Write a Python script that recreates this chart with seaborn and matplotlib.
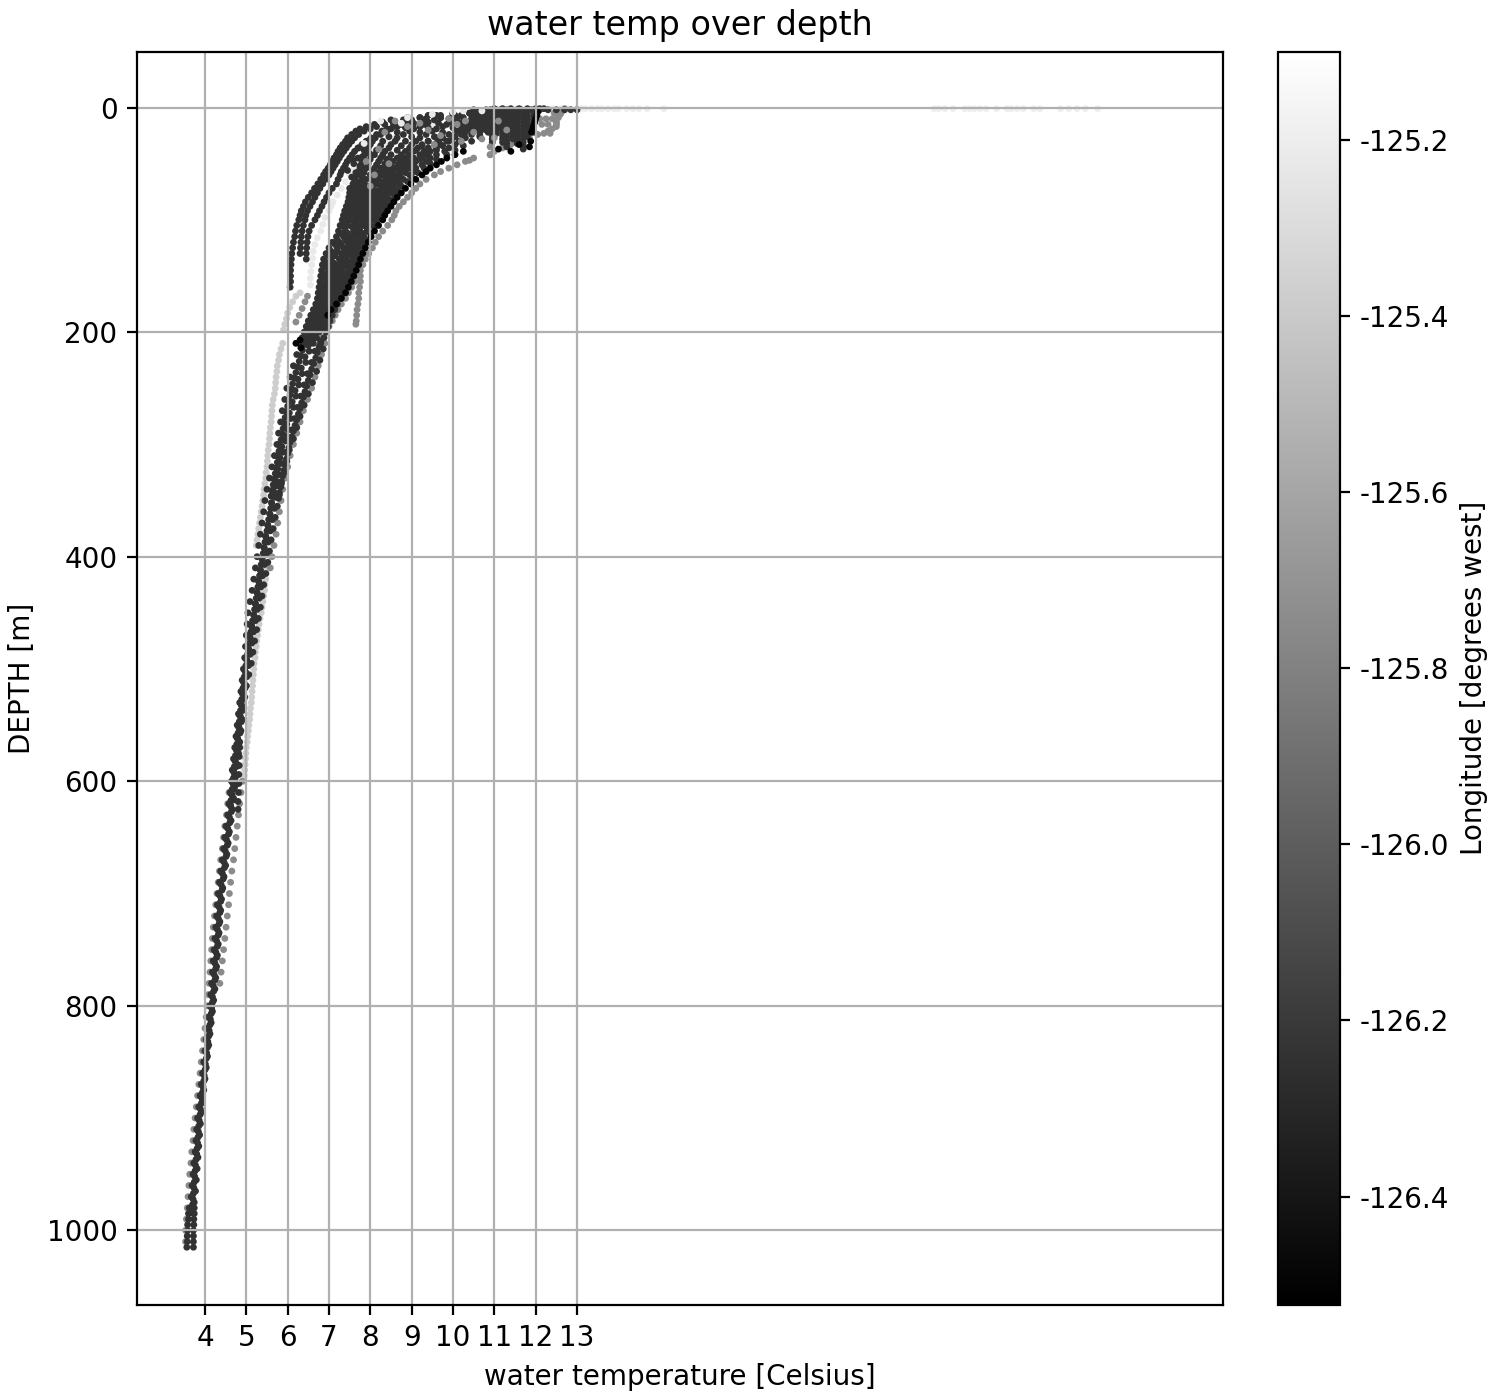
import pandas as pd
import seaborn as sns
import matplotlib.pyplot as plt
from matplotlib import cm, colors

# depth levels [m]
UP_DEPTH = [1, 3, 5, 7, 9, 11, 13, 15, 17, 19, 21, 24, 27, 30, 33, 36, 39, 42, 45, 48, 51, 54, 57, 60,
            64, 68, 72, 76, 80, 84, 88, 92, 96, 100, 105, 110, 115, 120, 125, 130, 135, 140, 145, 150,
            155, 160, 165, 170, 175, 180, 185, 190, 195, 200, 205, 210]
UP2_DEPTH = [2, 6, 10, 14, 18, 22, 26, 30, 34, 38, 42, 46, 50, 54, 58, 62, 66, 70, 74, 78, 82, 86, 90, 94, 98,
             102, 106, 112, 118, 122, 128, 132, 138, 142, 148, 152, 158, 162, 168, 172, 178, 182, 188, 192, 198]
DEEP_A = list(range(210, 1011, 10))
DEEP_B = list(range(215, 1016, 10))
DEEP_C = list(range(212, 1013, 10))
DEEP_D = list(range(217, 1018, 10))

# upper profiles, water temperature at UP_DEPTH
left_t = [12.0, 11.0, 10.0, 9.4, 8.9, 8.5, 8.3, 8.1, 7.9, 7.75, 7.65, 7.55, 7.45, 7.4, 7.33, 7.27, 7.22, 7.18,
          7.12, 7.08, 7.03, 6.98, 6.92, 6.87, 6.8, 6.73, 6.65, 6.58, 6.5, 6.43, 6.38, 6.33, 6.3, 6.27, 6.22,
          6.19, 6.17, 6.14, 6.12, 6.1, 6.09, 6.08, 6.07, 6.07, 6.07, 6.06]
left2_t = [12.1, 11.3, 10.4, 9.7, 9.2, 8.8, 8.55, 8.35, 8.15, 8.0, 7.85, 7.72, 7.62, 7.55, 7.48, 7.42, 7.36, 7.3,
           7.25, 7.2, 7.15, 7.1, 7.05, 7.0, 6.92, 6.85, 6.78, 6.72, 6.66, 6.6, 6.54, 6.48, 6.44, 6.42, 6.38,
           6.35, 6.33, 6.32, 6.31, 6.3]
second_t = [12.2, 11.6, 10.9, 10.2, 9.7, 9.3, 9.0, 8.75, 8.55, 8.4, 8.28, 8.15, 8.02, 7.9, 7.8, 7.7, 7.62, 7.56,
            7.5, 7.44, 7.4, 7.35, 7.3, 7.27, 7.22, 7.18, 7.08, 7.0, 6.94, 6.88, 6.83, 6.77, 6.72, 6.66, 6.58,
            6.52, 6.49, 6.47, 6.46, 6.45, 6.45]
mass0_t = [11.0, 10.6, 10.0, 9.6, 9.2, 9.0, 8.85, 8.75, 8.65, 8.5, 8.4, 8.25, 8.12, 8.05, 8.0, 7.95, 7.9, 7.86,
           7.83, 7.8, 7.78, 7.75, 7.72, 7.68, 7.62, 7.58, 7.55, 7.5, 7.48, 7.46, 7.42, 7.38, 7.35, 7.32, 7.27,
           7.23, 7.18, 7.08, 7.0, 6.93, 6.87, 6.84, 6.82, 6.8, 6.78, 6.76, 6.74, 6.72, 6.68, 6.62, 6.56, 6.5,
           6.45, 6.4, 6.35, 6.3]
mass1_t = [11.2, 10.9, 10.4, 10.05, 9.7, 9.55, 9.4, 9.3, 9.2, 9.05, 8.95, 8.8, 8.65, 8.6, 8.5, 8.45, 8.35, 8.3,
           8.25, 8.2, 8.15, 8.1, 8.05, 8.0, 7.9, 7.85, 7.8, 7.75, 7.7, 7.7, 7.65, 7.6, 7.55, 7.5, 7.45, 7.4,
           7.35, 7.25, 7.2, 7.1, 7.05, 7.0, 7.0, 6.95, 6.95, 6.9, 6.88, 6.88, 6.84, 6.78, 6.72, 6.64, 6.58, 6.52,
           6.46, 6.4]
mass2_t = [11.4, 11.15, 10.8, 10.5, 10.25, 10.1, 9.95, 9.85, 9.75, 9.6, 9.5, 9.35, 9.2, 9.1, 9.0, 8.95, 8.85,
           8.75, 8.65, 8.55, 8.5, 8.45, 8.35, 8.3, 8.2, 8.15, 8.05, 8.0, 7.95, 7.9, 7.85, 7.8, 7.75, 7.7, 7.65,
           7.6, 7.5, 7.45, 7.35, 7.3, 7.25, 7.2, 7.15, 7.1, 7.1, 7.05, 7.02, 7.0, 6.96, 6.9, 6.84, 6.78, 6.72, 6.66,
           6.6, 6.52]
mass3_t = [11.6, 11.45, 11.15, 11.0, 10.75, 10.6, 10.5, 10.4, 10.3, 10.2, 10.1, 9.9, 9.75, 9.65, 9.55, 9.4, 9.3,
           9.2, 9.05, 8.95, 8.85, 8.75, 8.7, 8.6, 8.5, 8.4, 8.35, 8.25, 8.2, 8.1, 8.05, 8.0, 7.95, 7.9, 7.85,
           7.75, 7.7, 7.6, 7.55, 7.45, 7.4, 7.35, 7.3, 7.3, 7.25, 7.2, 7.15, 7.1, 7.06, 7.0, 6.94, 6.88, 6.82, 6.76,
           6.7, 6.62]
mass4_t = [11.8, 11.7, 11.55, 11.45, 11.3, 11.15, 11.05, 10.95, 10.85, 10.75, 10.65, 10.45, 10.3, 10.15, 10.05,
           9.9, 9.8, 9.6, 9.45, 9.35, 9.25, 9.1, 9.05, 8.95, 8.8, 8.7, 8.6, 8.5, 8.4, 8.35, 8.3, 8.2, 8.15, 8.1,
           8.0, 7.95, 7.85, 7.75, 7.7, 7.65, 7.6, 7.55, 7.5, 7.45, 7.42, 7.38, 7.32, 7.26, 7.2, 7.14, 7.08, 7.02,
           6.98, 6.94, 6.88, 6.8]
# extra dark lines between the ones above, only below the top layer
fill1_t = [8.7, 8.5, 8.4, 8.32, 8.26, 8.2, 8.14, 8.08, 8.0, 7.95, 7.9, 7.85, 7.82, 7.78, 7.74, 7.7, 7.64, 7.6, 7.55,
           7.5, 7.45, 7.35, 7.28, 7.2, 7.15, 7.1, 7.08, 7.02, 7.0, 6.98, 6.94, 6.9, 6.85, 6.78, 6.7, 6.62, 6.55, 6.5]
fill2_t = [9.6, 9.4, 9.25, 9.15, 9.05, 8.95, 8.85, 8.78, 8.68, 8.58, 8.52, 8.46, 8.38, 8.34, 8.28, 8.2, 8.12, 8.08,
           8.0, 7.96, 7.9, 7.85, 7.8, 7.75, 7.7, 7.65, 7.55, 7.48, 7.42, 7.38, 7.32, 7.28, 7.22, 7.2, 7.18, 7.12,
           7.08, 7.0, 6.96, 6.88, 6.78, 6.68, 6.6, 6.52]
fill3_t = [10.4, 10.3, 10.2, 10.0, 9.85, 9.7, 9.6, 9.45, 9.35, 9.25, 9.1, 9.0, 8.9, 8.8, 8.72, 8.65, 8.55, 8.45,
           8.38, 8.3, 8.25, 8.18, 8.12, 8.08, 8.02, 7.98, 7.92, 7.82, 7.78, 7.72, 7.65, 7.58, 7.52, 7.48, 7.42,
           7.38, 7.35, 7.3, 7.24, 7.14, 7.06, 6.96, 6.86, 6.76, 6.68, 6.6, 6.52]

# staggered lines at UP2_DEPTH
band1_t = [10.9, 10.0, 9.35, 9.05, 8.85, 8.65, 8.45, 8.3, 8.25, 8.15, 8.1, 8.0, 7.95, 7.9, 7.85, 7.8, 7.75, 7.7, 7.65,
           7.6, 7.6, 7.55, 7.5, 7.45, 7.45, 7.4, 7.35, 7.3, 7.2, 7.15, 7.05, 7.0, 6.95, 6.9, 6.9, 6.85, 6.85, 6.8,
           6.8, 6.75, 6.7, 6.65, 6.58, 6.52, 6.48]
band2_t = [11.15, 10.45, 9.9, 9.65, 9.4, 9.2, 9.0, 8.85, 8.75, 8.65, 8.5, 8.4, 8.35, 8.25, 8.2, 8.1, 8.05, 7.95, 7.9,
           7.85, 7.8, 7.75, 7.7, 7.65, 7.65, 7.6, 7.55, 7.45, 7.4, 7.3, 7.2, 7.15, 7.1, 7.1, 7.05, 7.0, 7.0, 6.95,
           6.9, 6.85, 6.8, 6.75, 6.68, 6.65, 6.58]
band3_t = [11.4, 10.85, 10.45, 10.2, 10.0, 9.75, 9.55, 9.4, 9.25, 9.1, 8.95, 8.8, 8.7, 8.6, 8.5, 8.4, 8.3, 8.25, 8.15,
           8.1, 8.05, 8.0, 7.95, 7.85, 7.8, 7.8, 7.7, 7.65, 7.55, 7.5, 7.4, 7.35, 7.3, 7.25, 7.2, 7.2, 7.15, 7.1,
           7.05, 7.0, 6.9, 6.85, 6.8, 6.75, 6.7]
band4_t = [11.65, 11.25, 10.95, 10.75, 10.55, 10.3, 10.05, 9.9, 9.75, 9.6, 9.4, 9.2, 9.05, 8.95, 8.85, 8.7, 8.6, 8.5,
           8.4, 8.35, 8.25, 8.2, 8.15, 8.05, 8.0, 7.95, 7.9, 7.8, 7.7, 7.65, 7.6, 7.55, 7.5, 7.45, 7.4, 7.35, 7.3,
           7.25, 7.15, 7.1, 7.0, 6.95, 6.9, 6.85, 6.8]
band5_t = [11.9, 11.7, 11.5, 11.3, 11.1, 10.85, 10.65, 10.45, 10.25, 10.05, 9.85, 9.6, 9.45, 9.3, 9.15, 9.0, 8.9, 8.75,
           8.65, 8.6, 8.5, 8.4, 8.35, 8.3, 8.2, 8.15, 8.1, 8.0, 7.9, 7.85, 7.75, 7.7, 7.65, 7.6, 7.55, 7.5, 7.4, 7.35,
           7.3, 7.2, 7.1, 7.05, 7.0, 6.95, 6.92]

black_t = [10.25, 10.05, 9.85, 9.72, 9.6, 9.45, 9.35, 9.25, 9.1, 8.98, 8.85, 8.75, 8.65, 8.57, 8.5, 8.42, 8.35, 8.3,
           8.2, 8.1, 8.02, 7.95, 7.88, 7.82, 7.76, 7.72, 7.66, 7.6, 7.54, 7.47, 7.4, 7.3, 7.18, 7.05, 6.97]
black_d = UP_DEPTH[16:]
black_low_t = [6.3, 6.2, 6.32]
black_low_d = [207, 210, 214]
gray_t = [12.7, 12.65, 12.6, 12.55, 12.55, 12.5, 12.5, 12.5, 12.5, 12.4, 12.3, 12.05, 11.85, 11.6, 11.4, 11.2, 11.0,
          10.9, 10.5, 10.3, 10.1, 9.9, 9.7, 9.55, 9.35, 9.2, 9.1, 9.0, 8.9, 8.8, 8.7, 8.62, 8.58, 8.52, 8.42, 8.3,
          8.2, 8.12, 8.05, 7.96, 7.88, 7.82, 7.76, 7.7, 7.62, 7.55, 7.47, 7.4, 7.3, 7.22, 7.15, 7.08, 7.0, 6.92,
          6.85, 6.78]
stub_t = [7.76, 7.76, 7.74, 7.72, 7.72, 7.7, 7.68, 7.67, 7.66, 7.65]
stub_d = [150, 155, 160, 165, 170, 175, 180, 185, 190, 193]
pale_t = [9.5, 9.2, 8.9, 8.75, 8.6, 8.45, 8.3, 8.2, 8.05, 7.9, 7.75, 7.6, 7.5, 7.4, 7.3, 7.2, 7.1, 7.05, 7.0, 6.9,
          6.85, 6.8, 6.72, 6.66, 6.62, 6.6, 6.58, 6.56, 6.55, 6.55]
pale_d = [14, 17, 21, 24, 27, 30, 33, 36, 40, 44, 50, 55, 60, 66, 72, 78, 84, 88, 92, 98, 104, 110, 116, 122, 128,
          134, 140, 146, 152, 158]
light_up_t = [6.3, 6.2, 6.12, 6.05, 6.0, 5.97, 5.93, 5.9]
light_up_d = [165, 168, 173, 178, 183, 188, 193, 198]
gray_low_line_t = [6.48, 6.42, 6.35, 6.28, 6.2]
gray_low_line_d = [168, 173, 179, 185, 191]
# single dots in the fan
fan_dark_t = [7.9, 7.85, 7.7, 7.75, 7.65, 8.0, 7.55, 7.98, 7.6, 7.8, 7.72, 7.58, 7.68, 7.5, 7.45]
fan_dark_d = [33, 38, 45, 52, 58, 28, 62, 41, 50, 44, 36, 47, 66, 72, 56]
fan_gray_t = [9.9, 10.1, 10.3, 9.4, 9.2, 8.9, 8.6, 10.5, 10.7, 10.9, 11.0, 8.35, 8.2, 8.45, 7.9, 9.7, 9.55, 10.2, 11.3,
              11.1, 8.1, 8.0]
fan_gray_d = [10, 15, 12, 20, 14, 17, 12, 22, 28, 35, 27, 22, 37, 50, 48, 25, 33, 30, 20, 12, 60, 70]
fan_pale_t = [8.75, 9.5, 10.0, 10.25, 10.7, 7.85, 8.25, 8.9]
fan_pale_d = [14, 6, 4, 3, 3, 32, 12, 9]

# mixed layer columns near the surface
col_t = [10.5, 10.65, 10.8, 10.95, 11.05, 11.2, 11.3, 11.45, 11.55, 11.7, 11.8, 11.95]
col_len = [6, 8, 7, 10, 8, 10, 12, 9, 11, 12, 9, 7]
col_d1 = [2, 5, 8, 11, 14, 17, 20, 23, 26, 29, 32, 35]
col_d2 = [3, 7, 10, 13, 16, 19, 22, 25, 28, 31, 34, 37]
black_col_t = [12.05, 12.03, 12.0, 11.98, 11.95, 11.93, 11.9, 11.88, 11.85, 11.6, 11.4, 11.1]
black_col_d = [4, 7, 10, 13, 16, 19, 22, 30, 35, 33, 39, 37]
gray_low_t = [12.1, 12.25, 12.4, 12.15, 12.3, 12.5, 12.2, 12.35, 11.8, 10.9, 10.4, 12.6, 12.45]
gray_low_d = [10, 10, 10, 15, 15, 14, 23, 23, 26, 42, 47, 6, 5]
dark_line_t = [12.1, 12.3, 12.5, 12.7, 12.85, 13.0]
dark_line_d = [2, 2, 2, 2, 2, 2]

# surface water
surf_t = [12.4, 12.6, 12.8, 13.0, 13.1, 13.2, 13.35, 13.5, 13.6, 13.75, 13.9, 14.0, 14.2, 14.35, 14.5, 14.7, 15.1]
surf_far_t = [21.64, 21.75, 21.9, 22.1, 22.38, 22.5, 22.62, 22.75, 22.9, 23.15, 23.4, 23.5, 23.65, 23.8, 24.05, 24.2,
              24.7, 24.9, 25.1, 25.3, 25.6]

# deep profiles
deep1_t = [6.3, 6.22, 6.14, 6.06, 5.98, 5.93, 5.87, 5.83, 5.78, 5.74, 5.68, 5.62, 5.56, 5.5, 5.45, 5.42, 5.38, 5.34,
           5.3, 5.26, 5.22, 5.18, 5.14, 5.09, 5.04, 5.02, 5.0, 4.98, 4.96, 4.93, 4.9, 4.87, 4.84, 4.81, 4.78, 4.75,
           4.72, 4.69, 4.66, 4.64, 4.61, 4.58, 4.55, 4.51, 4.48, 4.45, 4.42, 4.38, 4.35, 4.32, 4.3, 4.28, 4.26, 4.24,
           4.22, 4.2, 4.18, 4.16, 4.14, 4.12, 4.09, 4.06, 4.03, 4.0, 3.97, 3.94, 3.91, 3.88, 3.85, 3.82, 3.8, 3.78,
           3.76, 3.73, 3.71, 3.69, 3.67, 3.64]
deep2_t = [6.86, 6.78, 6.7, 6.6, 6.5, 6.4, 6.3, 6.22, 6.14, 6.04, 5.98, 5.92, 5.85, 5.8, 5.75, 5.7, 5.65, 5.6,
           5.56, 5.52, 5.47, 5.42, 5.38, 5.34, 5.29, 5.25, 5.2, 5.16, 5.12, 5.06, 5.0, 4.96, 4.93, 4.9, 4.87, 4.84,
           4.81, 4.78, 4.75, 4.72, 4.69, 4.66, 4.63, 4.59, 4.56, 4.53, 4.5, 4.46, 4.43, 4.4, 4.38, 4.36, 4.34, 4.32,
           4.3, 4.28, 4.26, 4.24, 4.21, 4.18, 4.15, 4.12, 4.09, 4.06, 4.03, 4.0, 3.97, 3.94, 3.91, 3.89, 3.87, 3.85,
           3.83, 3.81, 3.79, 3.77, 3.74, 3.72]
deep3_t = [6.5, 6.42, 6.33, 6.25, 6.18, 6.11, 6.04, 5.98, 5.92, 5.86, 5.81, 5.76, 5.71, 5.66, 5.61, 5.57, 5.52, 5.47,
           5.43, 5.38, 5.34, 5.3, 5.26, 5.22, 5.18, 5.13, 5.09, 5.05, 5.01, 4.97, 4.94, 4.91, 4.88, 4.85, 4.82, 4.79,
           4.76, 4.73, 4.7, 4.68, 4.65, 4.62, 4.59, 4.55, 4.52, 4.49, 4.46, 4.42, 4.39, 4.36, 4.34, 4.32, 4.3, 4.28,
           4.26, 4.24, 4.22, 4.2, 4.18, 4.16, 4.13, 4.1, 4.07, 4.04, 4.01, 3.98, 3.95, 3.92, 3.89, 3.86, 3.84, 3.82,
           3.8, 3.77, 3.75, 3.73, 3.71]
deep4_t = [6.66, 6.58, 6.48, 6.4, 6.32, 6.24, 6.17, 6.1, 6.03, 5.96, 5.9, 5.85, 5.79, 5.73, 5.68, 5.63, 5.58, 5.53,
           5.49, 5.44, 5.39, 5.35, 5.31, 5.26, 5.22, 5.17, 5.13, 5.09, 5.05, 5.01, 4.97, 4.94, 4.91, 4.88, 4.85, 4.82,
           4.79, 4.76, 4.73, 4.7, 4.67, 4.64, 4.6, 4.57, 4.54, 4.51, 4.47, 4.44, 4.41, 4.38, 4.36, 4.34, 4.32, 4.3,
           4.28, 4.26, 4.24, 4.21, 4.18, 4.15, 4.12, 4.09, 4.06, 4.03, 4.0, 3.97, 3.94, 3.91, 3.88, 3.85, 3.83, 3.81,
           3.78, 3.76, 3.74, 3.72, 3.7]
# wide part of the band below 200 m
deep5_t = [6.45, 6.4, 6.36, 6.32, 6.28, 6.24, 6.2, 6.16, 6.12, 6.09, 6.06, 6.03, 6.0, 5.97, 5.94, 5.91, 5.89, 5.87,
           5.84, 5.81, 5.79, 5.77, 5.75, 5.72, 5.7, 5.67, 5.65, 5.62, 5.6]
deep5_d = list(range(206, 347, 5))
deep6_t = [6.8, 6.76, 6.72, 6.68, 6.63, 6.58, 6.54, 6.5, 6.46, 6.42, 6.38, 6.34, 6.3, 6.26, 6.22, 6.18, 6.14, 6.1,
           6.06, 6.03, 6.0, 5.97, 5.94, 5.91, 5.88, 5.85, 5.83, 5.8, 5.78]
deep6_d = list(range(208, 349, 5))
deep7_t = [6.6, 6.52, 6.44, 6.35, 6.27, 6.2, 6.14, 6.07, 6.01, 5.95, 5.88, 5.83, 5.78, 5.73, 5.68]
deep7_d = list(range(207, 348, 10))
deep8_t = [5.61, 5.59, 5.57, 5.54, 5.52, 5.5, 5.47, 5.45, 5.43, 5.41, 5.38, 5.36, 5.34, 5.32, 5.3, 5.28, 5.26, 5.24,
           5.22, 5.2, 5.18, 5.15, 5.13, 5.11, 5.09, 5.07, 5.05, 5.03, 5.01, 4.99, 4.97, 4.95, 4.94, 4.92, 4.91, 4.89,
           4.88, 4.86, 4.85, 4.83, 4.82, 4.8, 4.79, 4.77, 4.76, 4.74, 4.73, 4.71, 4.7, 4.69, 4.68, 4.66, 4.65, 4.63,
           4.62]
deep8_d = list(range(352, 623, 5))
tail_l_t = [3.62, 3.6, 3.6, 3.58, 3.58, 3.57, 3.57, 3.56]
tail_r_t = [3.74, 3.74, 3.73, 3.73, 3.72, 3.72, 3.72, 3.72]
tail_end_d = [980, 985, 990, 995, 1000, 1005, 1010, 1015]
tail_t = [4.84, 4.83, 4.83, 4.82, 4.82, 4.81, 4.8, 4.8]
tail_d = [570, 578, 586, 594, 602, 610, 618, 625]

# light gray flanks
light_left_t = [5.88, 5.84, 5.8, 5.78, 5.75, 5.74, 5.72, 5.71, 5.7, 5.68, 5.65, 5.63, 5.62, 5.61, 5.6, 5.58, 5.57, 5.56,
                5.55, 5.53, 5.52, 5.51, 5.5, 5.48, 5.47, 5.45, 5.43, 5.42, 5.4, 5.38, 5.36, 5.34, 5.32, 5.3, 5.28, 5.26,
                5.24]
light_left_d = list(range(210, 391, 5))
light_right_t = [5.5, 5.48, 5.47, 5.45, 5.44, 5.42, 5.4, 5.38, 5.36, 5.33, 5.31, 5.29, 5.27, 5.25, 5.24, 5.22, 5.21,
                 5.19, 5.18, 5.17, 5.16, 5.15, 5.14, 5.13, 5.12, 5.1, 5.09, 5.08, 5.06, 5.05, 5.03, 5.02, 5.0, 4.99,
                 4.98, 4.97, 4.96, 4.95, 4.94]
light_right_d = list(range(410, 601, 5))
gray_right_t = [6.9, 6.82, 6.74, 6.66, 6.58, 6.48, 6.38, 6.3, 6.22, 6.14, 6.06, 6.0, 5.94, 5.88, 5.84, 5.8, 5.76, 5.72,
                5.67, 5.62, 5.58]
gray_right_d = list(range(210, 411, 10))
fringe_l_t = [4.58, 4.55, 4.52, 4.48, 4.45, 4.42, 4.38, 4.35, 4.32, 4.29, 4.26, 4.23, 4.2, 4.18, 4.16, 4.14, 4.12, 4.1,
              4.08, 4.06, 4.03, 4.0, 3.97, 3.94, 3.91, 3.88, 3.85, 3.82, 3.79, 3.76, 3.73, 3.71, 3.68, 3.66, 3.63, 3.61,
              3.59, 3.57, 3.55, 3.53, 3.53]
fringe_l_d = list(range(610, 1011, 10))
fringe_r_t = [4.9, 4.87, 4.84, 4.81, 4.78, 4.75, 4.72, 4.69, 4.65, 4.62, 4.59, 4.57, 4.54, 4.51, 4.48, 4.45, 4.42, 4.39,
              4.36]
fringe_r_d = list(range(600, 781, 10))

# longitude of each group [degrees west]
LON_DARK = -126.24
LON_BLACK = -126.5
LON_GRAY = -125.75
LON_LIGHT = -125.38
LON_PALE = -125.22
LON_WHITE = -125.2

COL_TICKS = [-126.4, -126.2, -126.0, -125.8, -125.6, -125.4, -125.2]

rows = []


def add(lon, temps, depths):
    for t, d in zip(temps, depths):
        rows.append((t, d, lon))


# surface first, dark profiles on top of the lighter ones
add(LON_WHITE, surf_t, [1] * len(surf_t))
add(LON_WHITE, surf_far_t, [1] * len(surf_far_t))
add(LON_PALE, pale_t, pale_d)
add(LON_LIGHT, light_up_t, light_up_d)
add(LON_LIGHT, light_left_t, light_left_d)
add(LON_LIGHT, light_right_t, light_right_d)
add(LON_GRAY, gray_t, UP_DEPTH)
add(LON_GRAY, stub_t, stub_d)
add(LON_GRAY, gray_low_t, gray_low_d)
add(LON_GRAY, gray_low_line_t, gray_low_line_d)
add(LON_GRAY, gray_right_t, gray_right_d)
add(LON_GRAY, fringe_l_t, fringe_l_d)
add(LON_GRAY, fringe_r_t, fringe_r_d)
for prof in [left_t, left2_t, second_t, mass0_t, mass1_t, mass2_t, mass3_t, mass4_t]:
    add(LON_DARK, prof, UP_DEPTH)
add(LON_DARK, fill1_t, UP_DEPTH[18:])
add(LON_DARK, fill2_t, UP_DEPTH[12:])
add(LON_DARK, fill3_t, UP_DEPTH[9:])
for prof in [band1_t, band2_t, band3_t, band4_t, band5_t]:
    add(LON_DARK, prof, UP2_DEPTH)
for i, (t, n) in enumerate(zip(col_t, col_len)):
    col_d = col_d1 if i % 2 == 0 else col_d2
    add(LON_DARK, [t] * n, col_d[:n])
add(LON_DARK, dark_line_t, dark_line_d)
add(LON_DARK, fan_dark_t, fan_dark_d)
add(LON_DARK, deep1_t, DEEP_A)
add(LON_DARK, deep2_t, DEEP_B)
add(LON_DARK, deep3_t, DEEP_C)
add(LON_DARK, deep4_t, DEEP_D)
add(LON_DARK, deep5_t, deep5_d)
add(LON_DARK, deep6_t, deep6_d)
add(LON_DARK, deep7_t, deep7_d)
add(LON_DARK, deep8_t, deep8_d)
add(LON_DARK, tail_l_t, tail_end_d)
add(LON_DARK, tail_r_t, tail_end_d)
add(LON_DARK, tail_t, tail_d)
add(LON_GRAY, fan_gray_t, fan_gray_d)
add(LON_PALE, fan_pale_t, fan_pale_d)
add(LON_BLACK, black_t, black_d)
add(LON_BLACK, black_low_t, black_low_d)
add(LON_BLACK, black_col_t, black_col_d)

df = pd.DataFrame(rows, columns=['temp', 'depth', 'lon'])

plt.rcParams['axes.unicode_minus'] = False

fig = plt.figure(figsize=(7.5, 7), dpi=200)
ax = fig.add_axes([137 / 1500, 1 - 1304.5 / 1400, 1086 / 1500, 1253 / 1400])
cax = fig.add_axes([1278 / 1500, 1 - 1304.5 / 1400, 62 / 1500, 1253 / 1400])

norm = colors.Normalize(-126.5226, -125.1)
sns.scatterplot(data=df, x='temp', y='depth', hue='lon', hue_norm=norm, palette='gray',
                s=6, linewidth=0, legend=False, ax=ax)
ax.set_xlim(2.355, 28.63)
ax.set_ylim(1066, -49.9)
ax.set_xticks(range(4, 14))
ax.set_yticks(range(0, 1001, 200))
ax.grid(True)
ax.set_title('water temp over depth')
ax.set_xlabel('water temperature [Celsius]')
ax.set_ylabel('DEPTH [m]')

cb = fig.colorbar(cm.ScalarMappable(norm=norm, cmap='gray'), cax=cax)
cb.set_ticks(COL_TICKS)
cb.set_label('Longitude [degrees west]')

fig.savefig('out.png', dpi=200)
